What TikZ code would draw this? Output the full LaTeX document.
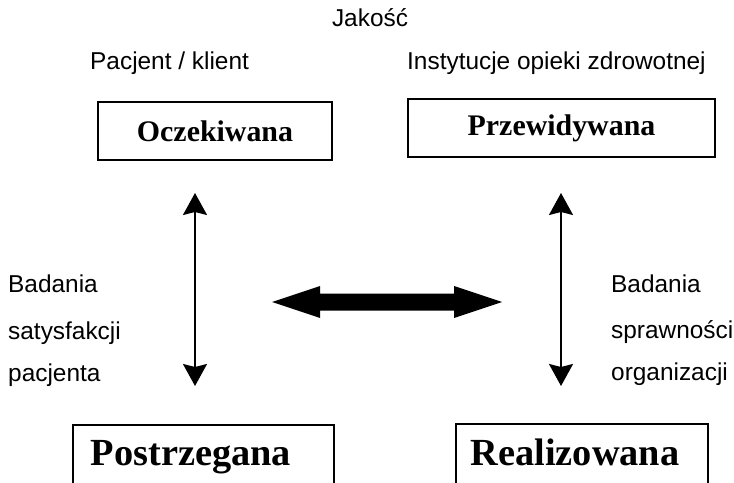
\documentclass[tikz,border=0pt]{standalone}
\usepackage{fontspec}
\setmainfont{Liberation Serif}
\setsansfont{Liberation Sans}
\usetikzlibrary{arrows.meta,calc}
\begin{document}
\begin{tikzpicture}[x=1bp,y=-1bp,
  sanstext/.style={font=\sffamily\fontsize{24.5}{28}\selectfont, inner sep=0pt},
  lbl/.style={sanstext, anchor=base west},
  topbox/.style={draw, line width=1.8bp, minimum width=#1, minimum height=58bp, inner sep=0pt, font=\bfseries\fontsize{30}{32}\selectfont},
  botbox/.style={draw, line width=1.8bp, minimum width=#1, minimum height=110bp, inner sep=0pt},
  bigtext/.style={font=\bfseries\fontsize{38.5}{40}\selectfont, inner sep=0pt, anchor=base},
  thinarrow/.style={line width=1.8bp, {Stealth[length=22bp,width=24bp,inset=3bp]}-{Stealth[length=22bp,width=24bp,inset=3bp]}},
  bigarrow/.style={fill=black}
]
\useasboundingbox (0,0) rectangle (734,483);
\clip (0,0) rectangle (734,483);
\fill[white] (0,0) rectangle (734,483);

\node[sanstext, anchor=base] (jak) at (370,27) {Jakość};
\node[lbl] (pac) at (90,70) {Pacjent / klient};
\node[lbl] (inst) at (407,70) {Instytucje opieki zdrowotnej};

\node[topbox=234bp] (ocz) at (215,131) {Oczekiwana};
\node[topbox=307bp] (prz) at (561.5,128) {Przewidywana};

\node[botbox=261bp] (pos) at (203.5,480) {};
\node[botbox=252bp] (rea) at (582,479) {};
\node[bigtext] (post) at (191,465) {Postrzegana};
\node[bigtext] (real) at (575,465) {Realizowana};

\coordinate (la) at (195,193);
\coordinate (lb) at (195,386);
\coordinate (ra) at (561,193);
\coordinate (rb) at (561,386);
\draw[thinarrow] (la) -- (lb);
\draw[thinarrow] (ra) -- (rb);

\coordinate (bl) at (272,302);
\coordinate (br) at (502,302);
\fill[bigarrow] (bl) -- ++(48,-16) -- ++(0,7.5) -- ($(br)+(-48,-8.5)$) -- ++(0,-7.5) -- (br) -- ++(-48,16) -- ++(0,-7.5) -- ($(bl)+(48,8.5)$) -- ++(0,7.5) -- cycle;

\node[lbl] (b1) at (8,293) {Badania};
\node[lbl] (b2) at (8,339) {satysfakcji};
\node[lbl] (b3) at (8,381) {pacjenta};
\node[lbl] (c1) at (611,293) {Badania};
\node[lbl] (c2) at (611,338) {sprawności};
\node[lbl] (c3) at (611,380) {organizacji};
\end{tikzpicture}
\end{document}
